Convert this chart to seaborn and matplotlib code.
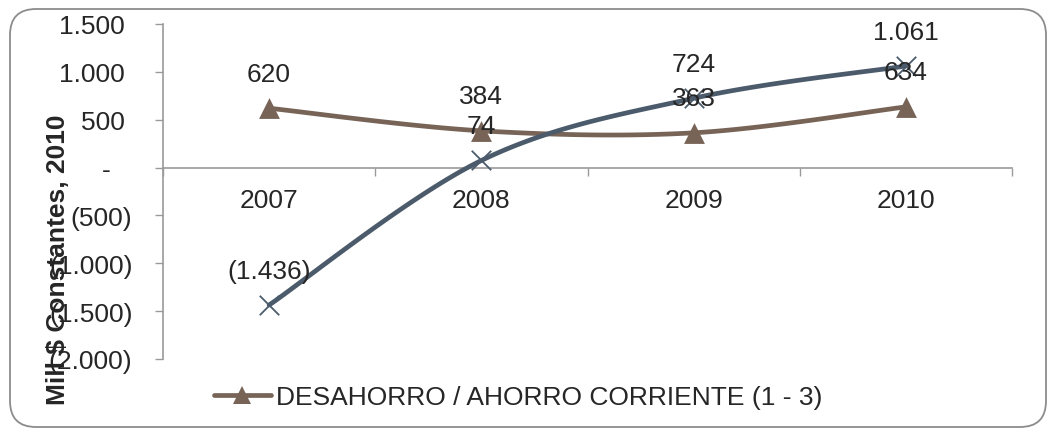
import numpy as np
import pandas as pd
import seaborn as sns
import matplotlib
matplotlib.use("Agg")
import matplotlib.pyplot as plt
from matplotlib.lines import Line2D
from matplotlib.patches import FancyBboxPatch
from matplotlib.transforms import IdentityTransform

# ---- data ----
years = ["2007", "2008", "2009", "2010"]
ahorro = [620, 384, 363, 634]          # DESAHORRO / AHORRO CORRIENTE (1 - 3)
otra = [-1436, 74, 724, 1061]          # second series (not in legend)
yticks = [1500, 1000, 500, 0, -500, -1000, -1500, -2000]
legend_label = "DESAHORRO / AHORRO CORRIENTE (1 - 3)"
ylabel = "Mill $ Constantes, 2010"

BROWN = "#786457"
BLUE = "#4B5B6B"
TXT = "#262626"
GRID = "#9a9a9a"

sns.set_theme(style="white")
plt.rcParams["font.family"] = ["Liberation Sans", "DejaVu Sans"]
FS = 19


def fmt(v):
    if v == 0:
        return "-   "
    s = f"{abs(v):,.0f}".replace(",", ".")
    return f"({s})" if v < 0 else s + " "


def catmull(xs, ys, n=40):
    px = np.array(xs, float)
    py = np.array(ys, float)
    px = np.concatenate([[px[0]], px, [px[-1]]])
    py = np.concatenate([[py[0]], py, [py[-1]]])
    ox, oy = [], []
    t = np.linspace(0, 1, n)
    for i in range(1, len(px) - 2):
        p0, p1, p2, p3 = px[i - 1], px[i], px[i + 1], px[i + 2]
        q0, q1, q2, q3 = py[i - 1], py[i], py[i + 1], py[i + 2]
        c1x, c1y = p1 + (p2 - p0) / 6, q1 + (q2 - q0) / 6
        c2x, c2y = p2 - (p3 - p1) / 6, q2 - (q3 - q1) / 6
        bx = (1 - t) ** 3 * p1 + 3 * (1 - t) ** 2 * t * c1x + 3 * (1 - t) * t ** 2 * c2x + t ** 3 * p2
        by = (1 - t) ** 3 * q1 + 3 * (1 - t) ** 2 * t * c1y + 3 * (1 - t) * t ** 2 * c2y + t ** 3 * q2
        ox.extend(bx)
        oy.extend(by)
    return np.array(ox), np.array(oy)


W, H = 1051, 431
fig = plt.figure(figsize=(W / 100, H / 100), dpi=100)
fig.patch.set_facecolor("white")

# rounded border (pixel coordinates)
border = FancyBboxPatch((10, H - 428), 1036, 418,
                        boxstyle="round,pad=0,rounding_size=26",
                        transform=IdentityTransform(), facecolor="none",
                        edgecolor="#8c8c8c", linewidth=1.3, zorder=-5)
fig.patches.append(border)

ax = fig.add_axes([163 / W, 1 - 360 / H, (1012 - 163) / W, (360 - 25) / H])
ax.set_facecolor("none")

xi = np.arange(len(years))
for vals, col in [(ahorro, BROWN), (otra, BLUE)]:
    sx, sy = catmull(xi, vals)
    df = pd.DataFrame({"x": sx, "y": sy})
    sns.lineplot(data=df, x="x", y="y", sort=False, color=col, linewidth=3.4,
                 ax=ax, zorder=3)

dfa = pd.DataFrame({"x": xi, "y": ahorro})
sns.scatterplot(data=dfa, x="x", y="y", marker="^", s=15 ** 2, color=BROWN,
                edgecolor=BROWN, linewidth=0, ax=ax, zorder=4)
dfo = pd.DataFrame({"x": xi, "y": otra})
sns.scatterplot(data=dfo, x="x", y="y", marker="x", s=14 ** 2, color=BLUE,
                linewidth=1.3, ax=ax, zorder=4)

for vals in (ahorro, otra):
    for i, v in enumerate(vals):
        ax.annotate(fmt(v).strip(), (i, v), xytext=(0, 24.8), textcoords="offset points",
                    ha="center", va="center", fontsize=FS, color=TXT, zorder=5)

ax.set_xlim(-0.5, len(years) - 0.5)
ax.set_ylim(-2000, 1500)

ax.set_yticks(yticks)
ax.set_yticklabels([fmt(v) for v in yticks])
ax.set_xticks(xi)
ax.set_xticklabels(years)
ax.set_xticks(np.arange(len(years) + 1) - 0.5, minor=True)
ax.tick_params(axis="x", which="major", length=0, pad=15, labelsize=FS, labelcolor=TXT)
ax.tick_params(axis="x", which="minor", length=6, width=1, color=GRID, direction="out",
               bottom=True)
ax.tick_params(axis="y", which="major", length=6, width=1, color=GRID, direction="out",
               pad=16, labelsize=FS, labelcolor=TXT, left=True)

for s in ("top", "right"):
    ax.spines[s].set_visible(False)
ax.spines["bottom"].set_position(("data", 0))
ax.spines["bottom"].set_color(GRID)
ax.spines["left"].set_color(GRID)
ax.spines["bottom"].set_linewidth(1.2)
ax.spines["left"].set_linewidth(1.2)
ax.set_xlabel("")
ax.set_ylabel("")

fig.text(58 / W, 1 - 260 / H, ylabel, rotation=90, ha="center", va="center",
         fontsize=FS, fontweight="bold", color=TXT)

handle = Line2D([], [], color=BROWN, linewidth=3.4, marker="^", markersize=13,
                markeredgewidth=0)
fig.legend([handle], [legend_label], loc="center left",
           bbox_to_anchor=(214 / W, 1 - 398 / H), frameon=False, fontsize=FS,
           handlelength=2.15, handletextpad=0.2, borderpad=0, borderaxespad=0,
           labelcolor=TXT)

fig.savefig("out.png", dpi=100, facecolor="white")
